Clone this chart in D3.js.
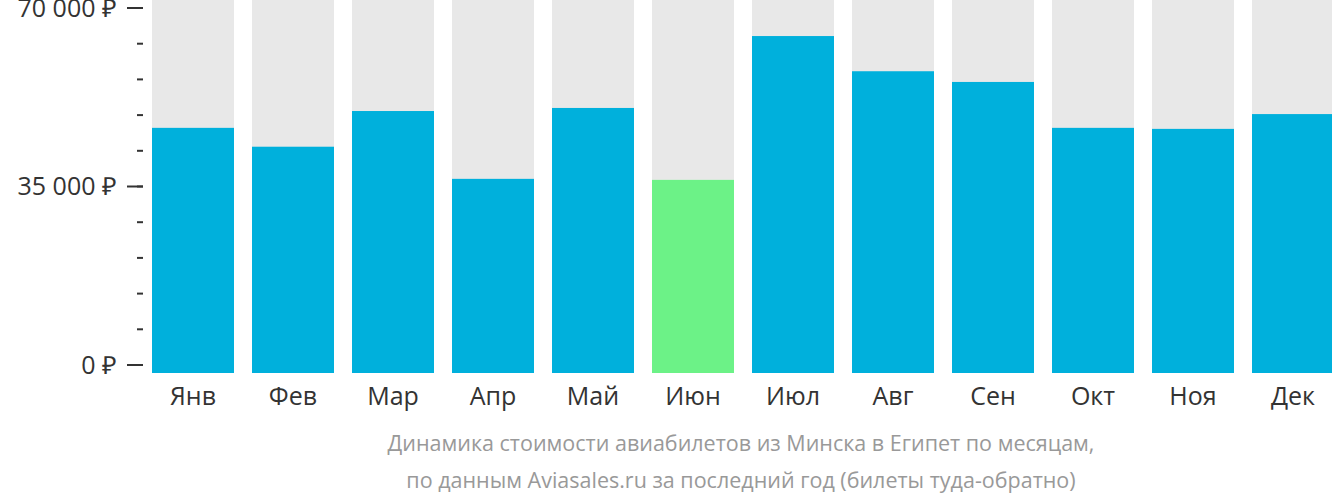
<!DOCTYPE html>
<html><head><meta charset="utf-8">
<script src="https://cdn.jsdelivr.net/npm/d3@7"></script>
<style>body{margin:0;background:#fff;font-family:"Open Sans",sans-serif}</style>
</head><body><svg id="c" width="1332" height="502"></svg>
<script>
const months = ['Янв','Фев','Мар','Апр','Май','Июн','Июл','Авг','Сен','Окт','Ноя','Дек'];
const prices = [46500, 42800, 49800, 36500, 50400, 36300, 64500, 57600, 55500, 46500, 46300, 49200];
const cheapest = 'Июн';
const majorTicks = [0, 35000, 70000];
const minorTicks = d3.range(0, 70001, 7000);
const caption = ['Динамика стоимости авиабилетов из Минска в Египет по месяцам,',
  'по данным Aviasales.ru за последний год (билеты туда-обратно)'];

const svg = d3.select('#c');
const x = d3.scaleBand().domain(months).range([152, 1334]).paddingInner(0.18).paddingOuter(0);
const y = d3.scaleLinear().domain([0, 70000]).range([365, 8]);
const base = 373;

svg.selectAll('.bg').data(months).join('rect')
  .attr('x', d => x(d)).attr('y', 0).attr('width', x.bandwidth()).attr('height', base)
  .attr('fill', '#e8e8e8');
svg.selectAll('.bar').data(prices).join('rect')
  .attr('x', (d, i) => x(months[i])).attr('y', d => y(d))
  .attr('width', x.bandwidth()).attr('height', d => base - y(d))
  .attr('fill', (d, i) => months[i] === cheapest ? '#6cf287' : '#00b0dc');

const fmt = v => d3.format(',')(v).replace(/,/g, '\u00a0') + ' ₽';
svg.selectAll('.minor').data(minorTicks).join('line')
  .attr('x1', 137).attr('x2', 143).attr('y1', d => y(d)).attr('y2', d => y(d))
  .attr('stroke', '#333').attr('stroke-width', 2);
svg.selectAll('.major').data(majorTicks).join('line')
  .attr('x1', 127).attr('x2', 143).attr('y1', d => y(d)).attr('y2', d => y(d))
  .attr('stroke', '#333').attr('stroke-width', 2);
svg.selectAll('.yl').data(majorTicks).join('text')
  .attr('x', 117).attr('y', d => y(d)).attr('dy', '0.35em').attr('text-anchor', 'end')
  .attr('font-size', 25).attr('fill', '#333').text(fmt);

svg.selectAll('.xl').data(months).join('text')
  .attr('x', d => x(d) + x.bandwidth() / 2).attr('y', 405).attr('text-anchor', 'middle')
  .attr('font-size', 25).attr('fill', '#333').text(d => d);

svg.selectAll('.cap').data(caption).join('text')
  .attr('x', 741).attr('y', (d, i) => 451 + i * 37).attr('text-anchor', 'middle')
  .attr('font-size', 21.5).attr('fill', '#999').text(d => d);
</script></body></html>
